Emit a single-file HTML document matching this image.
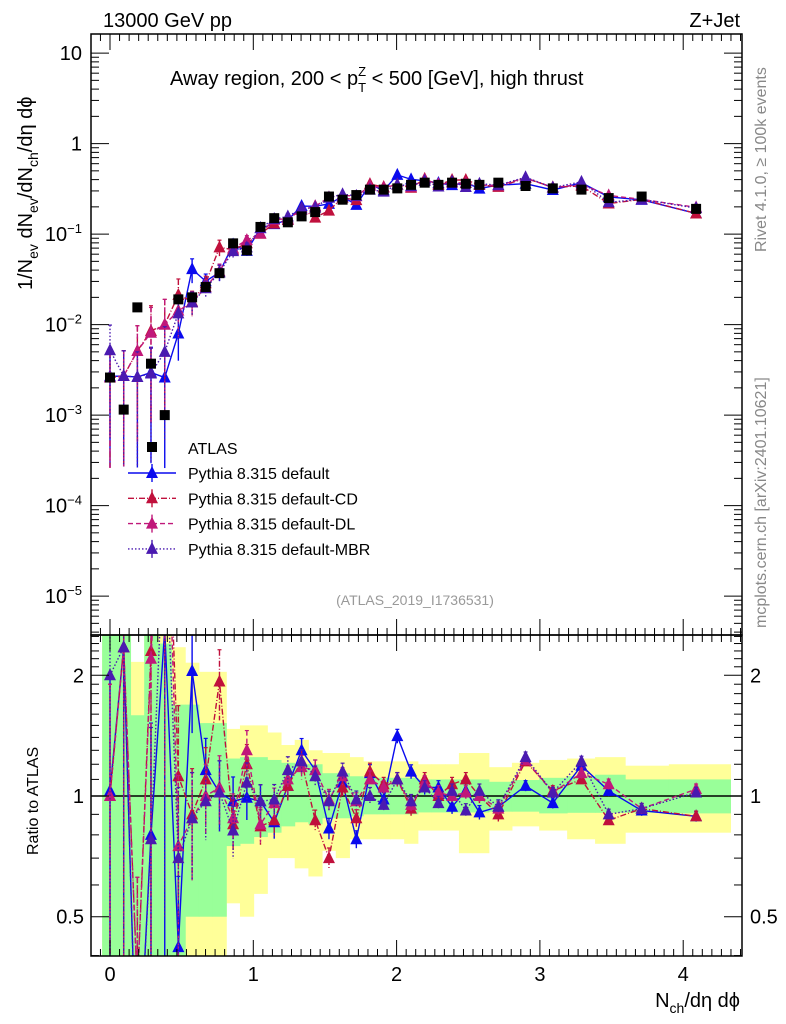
<!DOCTYPE html>
<html><head><meta charset="utf-8"><style>
html,body{margin:0;background:#fff;overflow:hidden;width:786px;height:1024px;}
svg{display:block;font-family:"Liberation Sans",sans-serif;}
</style></head><body>
<svg id="chart" width="786" height="1024" viewBox="0 0 786 1024"></svg>
<script>
// ---- data ----
const binCenters=[0,0.0955,0.191,0.286,0.382,0.477,0.573,0.668,0.764,0.859,0.955,1.05,1.146,1.241,1.337,1.432,1.528,1.623,1.719,1.814,1.91,2.005,2.101,2.196,2.292,2.387,2.483,2.578,2.71,2.90,3.09,3.29,3.48,3.71,4.09];
const atlasValues=[2.6e-3,1.15e-3,1.55e-2,3.7e-3,1.0e-3,0.019,0.020,0.026,0.037,0.079,0.066,0.12,0.15,0.135,0.157,0.175,0.26,0.24,0.27,0.31,0.31,0.32,0.35,0.37,0.35,0.37,0.36,0.35,0.37,0.34,0.32,0.31,0.25,0.26,0.19];
const yellowHi=[9,9,2.16,9,9,2.35,2.15,2.04,2.04,1.47,1.5,1.5,1.44,1.34,1.38,1.30,1.28,1.28,1.25,1.22,1.22,1.22,1.22,1.20,1.20,1.20,1.28,1.28,1.18,1.21,1.23,1.24,1.25,1.19,1.20];
const yellowLo=[0.01,0.01,0.01,0.01,0.01,0.01,0.01,0.01,0.01,0.54,0.5,0.57,0.70,0.70,0.66,0.63,0.73,0.70,0.78,0.78,0.78,0.78,0.76,0.82,0.82,0.82,0.72,0.72,0.82,0.84,0.82,0.78,0.76,0.81,0.81];
const greenHi=[9,9,1.59,9,2.4,1.69,1.69,1.52,1.52,1.24,1.25,1.25,1.23,1.21,1.20,1.20,1.14,1.14,1.12,1.11,1.11,1.11,1.11,1.10,1.10,1.10,1.10,1.10,1.085,1.096,1.11,1.12,1.13,1.10,1.10];
const greenLo=[0.01,0.01,0.01,0.01,0.01,0.01,0.5,0.5,0.5,0.75,0.76,0.79,0.81,0.84,0.86,0.85,0.88,0.88,0.89,0.9,0.9,0.9,0.9,0.91,0.91,0.91,0.91,0.91,0.914,0.914,0.905,0.908,0.908,0.908,0.905];
const ratioDefault=[1.03,2.35,0.17,0.80,2.6,0.42,2.05,1.16,1.02,0.97,0.99,0.97,0.86,1.06,1.30,1.16,0.83,1.08,0.78,1.14,0.98,1.41,1.15,1.05,1.05,0.94,1.03,0.91,0.94,1.06,0.96,1.19,1.03,0.92,0.89];
const ratioCD=[1.0,2.35,0.33,2.3,10,1.12,0.9,1.1,1.93,0.85,1.2,0.84,0.87,1.06,1.22,0.87,0.70,1.05,0.88,1.15,1.07,1.1,0.93,1.1,1.0,1.07,1.1,1.0,0.90,1.22,1.03,1.1,0.87,0.93,0.89];
const ratioDL=[1.0,2.35,0.33,2.2,10,0.75,0.88,1.0,1.05,0.88,1.3,0.85,0.96,1.1,1.18,1.16,0.98,1.12,0.97,1.1,1.05,1.1,0.95,1.08,1.02,1.0,1.02,1.0,0.93,1.23,1.02,1.14,1.07,0.93,1.04];
const ratioMBR=[2.0,2.35,0.17,0.78,5,0.7,0.88,0.97,1.02,0.82,1.08,0.97,0.98,1.16,1.22,1.12,0.97,1.15,0.98,1.0,0.95,1.1,0.97,1.05,0.96,1.03,0.92,1.03,0.94,1.25,1.02,1.22,0.9,0.93,1.02];
const mcErr=[0.9,0.9,0.9,0.9,0.9,0.5,0.3,0.2,0.2,0.15,0.12,0.1,0.09,0.08,0.07,0.06,0.06,0.05,0.05,0.05,0.04,0.04,0.04,0.04,0.04,0.04,0.04,0.04,0.04,0.03,0.03,0.03,0.03,0.03,0.03];
const mainTickLabels=["10","1","10<tspan dy='-8' font-size='13'>−1</tspan>","10<tspan dy='-8' font-size='13'>−2</tspan>","10<tspan dy='-8' font-size='13'>−3</tspan>","10<tspan dy='-8' font-size='13'>−4</tspan>","10<tspan dy='-8' font-size='13'>−5</tspan>"];
const mainTickValues=[10,1,0.1,0.01,1e-3,1e-4,1e-5];
const ratioTickValues=[2,1,0.5];
const ratioTickLabels=["2","1","0.5"];
const xTickValues=[0,1,2,3,4];

// ---- geometry ----
const L=91,R=742,T=34,MB=635,RB=956;
const X=v=>110+v*143.3;
const YM=v=>143.6-90.5*Math.log10(v);
const YR=v=>796-401*Math.log10(v);
const xmin=(L-110)/143.3,xmax=(R-110)/143.3;
const svg=document.getElementById('chart');
const NS='http://www.w3.org/2000/svg';
function mk(tag,attrs,parent){const e=document.createElementNS(NS,tag);for(const k in attrs)e.setAttribute(k,attrs[k]);(parent||svg).appendChild(e);return e;}
function txt(x,y,s,attrs,parent){const e=mk('text',Object.assign({x:x,y:y,'font-size':20,fill:'#000'},attrs||{}),parent);e.innerHTML=s;return e;}

const defs=mk('defs',{});
const c1=mk('clipPath',{id:'cm'},defs);mk('rect',{x:L,y:T,width:R-L,height:MB-T},c1);
const c2=mk('clipPath',{id:'cr'},defs);mk('rect',{x:L,y:MB,width:R-L,height:RB-MB},c2);

const edges=binCenters.map((c,i)=>{const lo=i==0?c-0.055:(c+binCenters[i-1])/2;const hi=i==binCenters.length-1?c+0.24:(c+binCenters[i+1])/2;return [lo,hi];});

const gR=mk('g',{'clip-path':'url(#cr)'});

[[yellowLo,yellowHi,'#ffff99','yellow-band'],[greenLo,greenHi,'#99ff99','green-band']].forEach(([lo,hi,col,nm])=>{
  lo.forEach((l,i)=>{
    const r=mk('rect',{x:X(edges[i][0]),y:YR(hi[i]),width:X(edges[i][1])-X(edges[i][0])+0.5,height:YR(l)-YR(hi[i]),fill:col},gR);
    });
});
mk('line',{x1:L,x2:R,y1:YR(1),y2:YR(1),stroke:'#000','stroke-width':1.5},gR);

const gM=mk('g',{'clip-path':'url(#cm)'});


function tri(g,x,y,col){return mk('polygon',{points:`${x},${y-7} ${x-6},${y+5} ${x+6},${y+5}`,fill:col},g);}
const series=[
 [ratioDefault,'#0a0aee','none','series-default'],
 [ratioCD,'#c0103c','6,2,1,2','series-default-cd'],
 [ratioDL,'#c0187a','5,3','series-default-dl'],
 [ratioMBR,'#4a1ab0','1.5,2','series-default-mbr']];
series.forEach(([rat,col,dash,nm])=>{
  [[gM,(i)=>atlasValues[i]*rat[i],YM],[gR,(i)=>rat[i],YR]].forEach(([g,val,Y])=>{
    const sg=mk('g',{},g);
    const pts=binCenters.map((c,i)=>`${X(c)},${Y(val(i))}`).join(' ');
    mk('polyline',{points:pts,fill:'none',stroke:col,'stroke-width':1.4,'stroke-dasharray':dash},sg);
    binCenters.forEach((c,i)=>{const v=val(i),e=mcErr[i];
      mk('line',{x1:X(c),x2:X(c),y1:Y(v*(1+e)),y2:Y(Math.max(v*(1-e),1e-9)),stroke:col,'stroke-width':1.4,'stroke-dasharray':dash},sg);
      mk('line',{x1:X(c)-2,x2:X(c)+2,y1:Y(v*(1+e)),y2:Y(v*(1+e)),stroke:col,'stroke-width':1.2},sg);
      const t=tri(sg,X(c),Y(v),col);});
  });
});
binCenters.forEach((c,i)=>{const r=mk('rect',{x:X(c)-5,y:YM(atlasValues[i])-5,width:10,height:10,fill:'#000'},gM);
  });

[[T,MB,'main-frame'],[MB,RB,'ratio-frame']].forEach(([a,b,nm])=>{const r=mk('rect',{x:L,y:a,width:R-L,height:b-a,fill:'none',stroke:'#000','stroke-width':1.5});
  });

const axg=mk('g',{stroke:'#000','stroke-width':1});

for(let k=Math.ceil(xmin*15);k<=Math.floor(xmax*15);k++){const v=k/15,x=X(v),maj=k%15==0,len=maj?16:7;
  [[T,1],[MB,-1],[MB,1],[RB,-1]].forEach(([y,d])=>mk('line',{x1:x,x2:x,y1:y,y2:y+d*len},axg));}
xTickValues.forEach(v=>{const t=txt(X(v),981,String(v),{'text-anchor':'middle'});});

for(let d=-6;d<=1;d++){for(let m=1;m<10;m++){const v=m*Math.pow(10,d),y=YM(v);if(y<T||y>MB)continue;const len=m==1?18:8;
  mk('line',{x1:L,x2:L+len,y1:y,y2:y},axg);mk('line',{x1:R,x2:R-len,y1:y,y2:y},axg);}}
mainTickValues.forEach((v,i)=>{const t=txt(82,YM(v)+7,mainTickLabels[i],{'text-anchor':'end'});});
[0.4,0.5,0.6,0.7,0.8,0.9,1,1.1,1.2,1.3,1.4,1.5,1.6,1.7,1.8,1.9,2,2.1,2.2,2.3,2.4,2.5].forEach(v=>{const y=YR(v);if(y<MB||y>RB)return;const maj=[0.5,1,2].includes(v),len=maj?18:8;
  mk('line',{x1:L,x2:L+len,y1:y,y2:y},axg);mk('line',{x1:R,x2:R-len,y1:y,y2:y},axg);});
ratioTickValues.forEach((v,i)=>{const a=txt(84,YR(v)+7,ratioTickLabels[i],{'text-anchor':'end'});
  const b=txt(750,YR(v)+7,ratioTickLabels[i]);});

let t;
t=txt(103,27,'13000 GeV pp');
t=txt(740,27,'Z+Jet',{'text-anchor':'end'});
t=txt(170,85,'Away region, 200 &lt; p<tspan dy="7" font-size="13">T</tspan><tspan dy="-16" dx="-8" font-size="13">Z</tspan><tspan dy="9"> &lt; 500 [GeV], high thrust</tspan>');
t=txt(415,605,'(ATLAS_2019_I1736531)',{'text-anchor':'middle','font-size':14,fill:'#999'});
t=txt(0,0,'Rivet 4.1.0, ≥ 100k events',{'font-size':16,fill:'#888',transform:'translate(766,252) rotate(-90)'});
t=txt(0,0,'mcplots.cern.ch [arXiv:2401.10621]',{'font-size':16,fill:'#888',transform:'translate(766,628) rotate(-90)'});
t=txt(0,0,'1/N<tspan dy="6" font-size="14">ev</tspan><tspan dy="-6"> dN</tspan><tspan dy="6" font-size="14">ev</tspan><tspan dy="-6">/dN</tspan><tspan dy="6" font-size="14">ch</tspan><tspan dy="-6">/dη dϕ</tspan>',{transform:'translate(32,290) rotate(-90)'});
t=txt(0,0,'Ratio to ATLAS',{'font-size':16,transform:'translate(38,855) rotate(-90)'});
t=txt(740,1007,'N<tspan dy="6" font-size="14">ch</tspan><tspan dy="-6">/dη dϕ</tspan>',{'text-anchor':'end'});

const leg=mk('g',{});
const le=mk('g',{},leg);
mk('rect',{x:147,y:442,width:10,height:10,fill:'#000'},le);txt(188,454,'ATLAS',{'font-size':16},le);
const legNames=['Pythia 8.315 default','Pythia 8.315 default-CD','Pythia 8.315 default-DL','Pythia 8.315 default-MBR'];
series.forEach(([r,col,dash,nm],i)=>{const y=473+i*25.3;const g=mk('g',{},leg);
  mk('line',{x1:128,x2:176,y1:y,y2:y,stroke:col,'stroke-width':1.4,'stroke-dasharray':dash},g);
  mk('line',{x1:152,x2:152,y1:y-9,y2:y+9,stroke:col,'stroke-width':1.4},g);
  tri(g,152,y,col);txt(188,y+6,legNames[i],{'font-size':16},g);});
</script>
</body></html>
